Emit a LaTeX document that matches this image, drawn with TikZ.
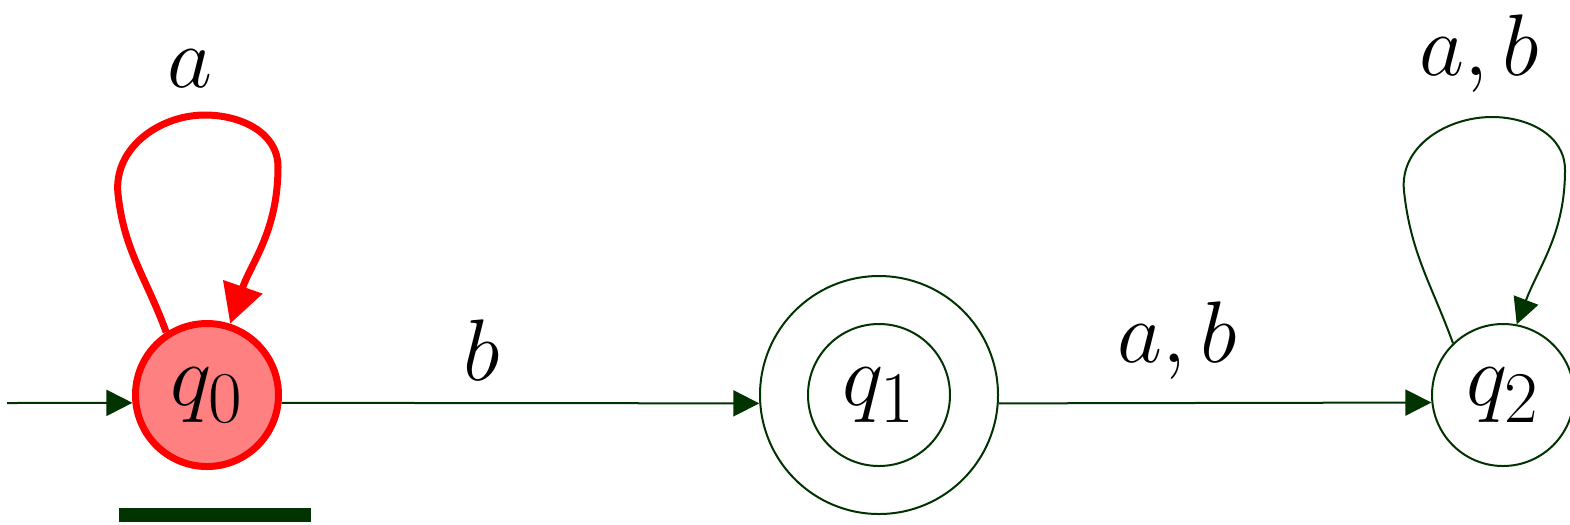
\documentclass[tikz,border=0pt]{standalone}
\usepackage{tikz}
\usetikzlibrary{arrows.meta,positioning,calc}
\usepackage{xcolor}
\definecolor{fsmgreen}{RGB}{0,51,0}
\definecolor{fsmred}{RGB}{255,0,0}
\definecolor{fsmpink}{RGB}{255,128,128}
\tikzset{
  fsmstate/.style={draw=fsmgreen, circle, line width=0.02cm, inner sep=0pt, font=\fontsize{30}{36}\selectfont},
  fsmhot/.style={fsmstate, draw=fsmred, fill=fsmpink, line width=0.07cm},
  fsmarrow/.style={-{Triangle[length=0.26cm, width=0.26cm]}, fsmgreen, line width=0.02cm},
  fsmredarrow/.style={-{Triangle[length=0.39cm, width=0.40cm]}, fsmred, line width=0.07cm},
  fsmlabel/.style={anchor=base, inner sep=0pt, font=\fontsize{30}{36}\selectfont},
}

\begin{document}
\begin{tikzpicture}
  \useasboundingbox (0,0) rectangle (15.70,5.24);
  \node[fsmhot, minimum size=1.43cm] (q0) at (2.07,1.29) {$q_0$};
  \node[fsmstate, minimum size=2.38cm] (q1) at (8.79,1.29) {};
  \node[fsmstate, minimum size=1.42cm] (q1in) at (q1) {$q_1$};
  \node[fsmstate, minimum size=1.42cm] (q2) at (15.03,1.29) {$q_2$};
  \coordinate (start) at (0.07,1.21);
  % loop shapes
  \coordinate (q0left) at (1.18,3.30);
  \coordinate (q0top) at (2.05,4.09);
  \coordinate (q0right) at (2.78,3.57);
  \coordinate (q2left) at (14.04,3.33);
  \coordinate (q2top) at (14.92,4.07);
  \coordinate (q2right) at (15.65,3.54);

  \draw[fsmarrow] (start) -- (q0.186);
  \draw[fsmarrow] (q0.-6) -- (q1.184);
  \draw[fsmarrow] (q1.-4) -- (q2.186);
  \draw[fsmredarrow] (q0.123) to[out=110,in=-84] (q0left) to[out=96,in=180] (q0top)
    to[out=0,in=90] (q0right) to[out=-90,in=71] (q0.72);
  \draw[fsmarrow] (q2.134) to[out=110,in=-84] (q2left) to[out=96,in=180] (q2top)
    to[out=0,in=90] (q2right) to[out=-90,in=69] (q2.79);

  \node[fsmlabel] (la) at (1.90,4.37) {$a$};
  \node[fsmlabel] (lb) at (4.82,1.44) {$b$};
  \node[fsmlabel] (lab) at (11.77,1.62) {$a,b$};
  \node[fsmlabel] (labloop) at (14.79,4.49) {$a,b$};

  % marker under the start state
  \fill[fsmgreen] (1.19,0.02) rectangle (3.11,0.16);
\end{tikzpicture}
\end{document}
